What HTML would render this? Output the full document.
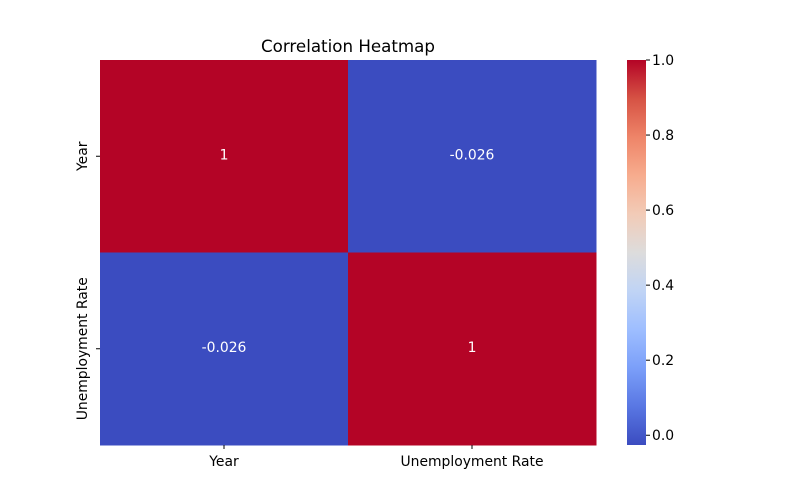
<!DOCTYPE html>
<html><head><meta charset="utf-8"><style>
body{margin:0;background:#fff;font-family:"DejaVu Sans",sans-serif;}
svg text{font-family:"DejaVu Sans",sans-serif;}
</style></head><body>
<svg id="chart" width="800" height="500" viewBox="0 0 800 500" xmlns="http://www.w3.org/2000/svg">
<defs>
<linearGradient id="cw" x1="0" y1="1" x2="0" y2="0">
<stop offset="0" stop-color="#3b4cc0"/><stop offset="0.1" stop-color="#5977e3"/>
<stop offset="0.2" stop-color="#7b9ff9"/><stop offset="0.3" stop-color="#9ebeff"/>
<stop offset="0.4" stop-color="#c0d4f5"/><stop offset="0.5" stop-color="#dddcdc"/>
<stop offset="0.6" stop-color="#f2cbb7"/><stop offset="0.7" stop-color="#f7ac8e"/>
<stop offset="0.8" stop-color="#ee8468"/><stop offset="0.9" stop-color="#d65244"/>
<stop offset="1" stop-color="#b40426"/>
</linearGradient>
</defs>
<text x="348" y="52" font-size="16.7" text-anchor="middle">Correlation Heatmap</text>
<g id="cells"></g>
<rect x="627" y="60" width="19" height="385" fill="url(#cw)"/>
<g id="cbticks"></g>
</svg>
<script>
const labels = ["Year", "Unemployment Rate"];
const matrix = [[1, -0.026], [-0.026, 1]];
const cbTicks = [0.0, 0.2, 0.4, 0.6, 0.8, 1.0];
const vmin = -0.026, vmax = 1;
const X0 = 100, X1 = 596, Y0 = 60, Y1 = 445;
const FS = 13.9;
const ns = "http://www.w3.org/2000/svg";
const cells = document.getElementById('cells');
const cbg = document.getElementById('cbticks');
const stops = ["#3b4cc0","#5977e3","#7b9ff9","#9ebeff","#c0d4f5","#dddcdc","#f2cbb7","#f7ac8e","#ee8468","#d65244","#b40426"];
function hex(h){return [1,3,5].map(i=>parseInt(h.substr(i,2),16));}
function color(v){let t=(v-vmin)/(vmax-vmin);t=Math.max(0,Math.min(1,t));const p=t*10,i=Math.min(9,Math.floor(p)),f=p-i;const a=hex(stops[i]),b=hex(stops[i+1]);return 'rgb('+a.map((c,k)=>Math.round(c+(b[k]-c)*f)).join(',')+')';}
function el(tag, attrs){const e=document.createElementNS(ns,tag);for(const k in attrs)e.setAttribute(k,attrs[k]);return e;}
const n = labels.length, cw = (X1-X0)/n, ch = (Y1-Y0)/n;
function fmt(v){return Number.isInteger(v)?String(v):String(Math.round(v*1000)/1000);}
for(let r=0;r<n;r++)for(let c=0;c<n;c++){
  const rect=el('rect',{x:X0+c*cw,y:Y0+r*ch,width:cw+0.5,height:ch+0.5,fill:color(matrix[r][c])});
  
  
  cells.appendChild(rect);
  const t=el('text',{x:X0+(c+0.5)*cw,y:Y0+(r+0.5)*ch+3,'font-size':FS,'text-anchor':'middle',fill:'#fff'});
  t.textContent=fmt(matrix[r][c]);
  
  
  cells.appendChild(t);
}
for(let i=0;i<n;i++){
  const xc=X0+(i+0.5)*cw;
  cells.appendChild(el('line',{x1:xc,y1:Y1,x2:xc,y2:Y1+4,stroke:'#000'}));
  const tx=el('text',{x:xc,y:Y1+21,'font-size':FS,'text-anchor':'middle'});
  tx.textContent=labels[i];
  
  
  cells.appendChild(tx);
  const yc=Y0+(i+0.5)*ch;
  cells.appendChild(el('line',{x1:X0-4,y1:yc,x2:X0,y2:yc,stroke:'#000'}));
  const ty=el('text',{x:0,y:0,'font-size':FS,'text-anchor':'middle',transform:'translate('+(X0-13)+','+yc+') rotate(-90)'});
  ty.textContent=labels[i];
  
  
  cells.appendChild(ty);
}
function cy(v){return Y1-(v-vmin)/(vmax-vmin)*(Y1-Y0);}
cbTicks.forEach(v=>{
  const y=cy(v);
  cbg.appendChild(el('line',{x1:646,y1:y,x2:650,y2:y,stroke:'#000'}));
  const t=el('text',{x:652,y:y+5,'font-size':FS});
  t.textContent=v.toFixed(1);
  
  
  cbg.appendChild(t);
});
</script>
</body></html>
